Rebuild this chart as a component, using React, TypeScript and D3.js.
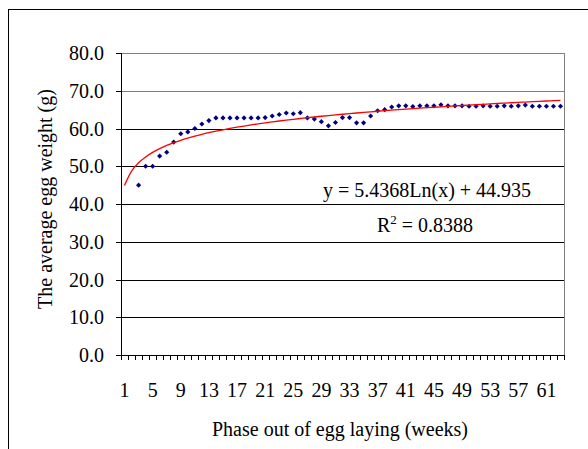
import React from "react";
import * as d3 from "d3";

// weeks 1..63 on the x axis, observations start at week 3
const weeks = d3.range(1, 64);
const firstWeek = 3;
const eggWeight = [
  45.0, 50.0, 50.0, 52.7, 53.7, 56.4, 58.6, 59.1, 60.0, 61.2,
  62.1, 62.8, 62.8, 62.8, 62.8, 62.8, 62.8, 62.8, 62.9, 63.3,
  63.7, 64.1, 63.9, 64.2, 62.8, 62.5, 61.8, 60.7, 61.6, 62.9,
  62.9, 61.5, 61.5, 63.3, 64.7, 65.0, 65.7, 66.0, 66.0, 65.8,
  66.0, 66.0, 66.0, 66.3, 66.0, 66.0, 66.0, 65.9, 65.9, 66.0,
  65.9, 65.9, 66.0, 65.9, 66.0, 66.2, 65.9, 65.9, 65.9, 65.9,
  65.9,
];
const yTicks = [0, 10, 20, 30, 40, 50, 60, 70, 80];
const xLabels = [1, 5, 9, 13, 17, 21, 25, 29, 33, 37, 41, 45, 49, 53, 57, 61];
const trendA = 5.4368;
const trendB = 44.935;

const font = "Liberation Serif, Times New Roman, Times, serif";

export default function App() {
  const W = 588, H = 449;
  const margin = { top: 53, right: 24, bottom: 94, left: 121 };
  const innerW = W - margin.left - margin.right;
  const innerH = H - margin.top - margin.bottom;

  const x = d3.scaleBand<number>().domain(weeks).range([0, innerW]);
  const y = d3.scaleLinear().domain([0, 80]).range([innerH, 0]);
  const cx = (w: number) => (x(w) ?? 0) + x.bandwidth() / 2;

  const points = eggWeight.map((v, i) => ({ w: firstWeek + i, v }));
  const trend = d3.line<number>()
    .x((w) => cx(w))
    .y((w) => y(trendA * Math.log(w) + trendB))
    .curve(d3.curveMonotoneX)(weeks);

  const diamond = d3.symbol().type(d3.symbolDiamond2).size(17)();
  const edges = d3.range(0, weeks.length + 1).map((i) => i * x.step());

  return (
    <svg width={W} height={H} style={{ position: "absolute", left: 0, top: 0, background: "#fff", fontFamily: font }}>
      <rect x={8.5} y={9.5} width={W} height={H} fill="none" stroke="#000" strokeWidth={1} />
      <g transform={`translate(${margin.left},${margin.top})`}>
        {yTicks.map((t) => (
          <g key={t}>
            {t > 0 && (
              <line x1={0} x2={innerW} y1={Math.round(y(t)) + 0.5} y2={Math.round(y(t)) + 0.5}
                stroke={t >= 70 ? "#808080" : "#000"} />
            )}
            <line x1={-5} x2={0} y1={Math.round(y(t)) + 0.5} y2={Math.round(y(t)) + 0.5} stroke="#000" />
            <text x={-17} y={y(t)} dy="0.36em" textAnchor="end" fontSize={20}>{t.toFixed(1)}</text>
          </g>
        ))}
        <line x1={innerW + 0.5} x2={innerW + 0.5} y1={0} y2={innerH} stroke="#808080" />
        <line x1={0.5} x2={0.5} y1={0} y2={innerH} stroke="#000" />
        <line x1={0} x2={innerW} y1={innerH + 0.5} y2={innerH + 0.5} stroke="#000" />
        {edges.map((e, i) => (
          <line key={i} x1={Math.round(e) + 0.5} x2={Math.round(e) + 0.5} y1={innerH} y2={innerH + 5} stroke="#000" />
        ))}
        {xLabels.map((w) => (
          <text key={w} x={cx(w)} y={innerH + 42} textAnchor="middle" fontSize={20}>{w}</text>
        ))}
        {points.map((p) => (
          <path key={p.w} d={diamond ?? ""} transform={`translate(${cx(p.w)},${y(p.v)})`} fill="#000080" />
        ))}
        <path d={trend ?? ""} fill="none" stroke="#ff0000" strokeWidth={1.3} />
        <text x={323 - margin.left} y={197 - margin.top} fontSize={20}>y = 5.4368Ln(x) + 44.935</text>
        <text x={377 - margin.left} y={232 - margin.top} fontSize={20}>
          R<tspan dy={-8} fontSize={13}>2</tspan><tspan dy={8}> = 0.8388</tspan>
        </text>
      </g>
      <text transform={`translate(52,199) rotate(-90)`} textAnchor="middle" fontSize={20}>
        The average egg weight (g)
      </text>
      <text x={340} y={436} textAnchor="middle" fontSize={20}>Phase out of egg laying (weeks)</text>
    </svg>
  );
}
